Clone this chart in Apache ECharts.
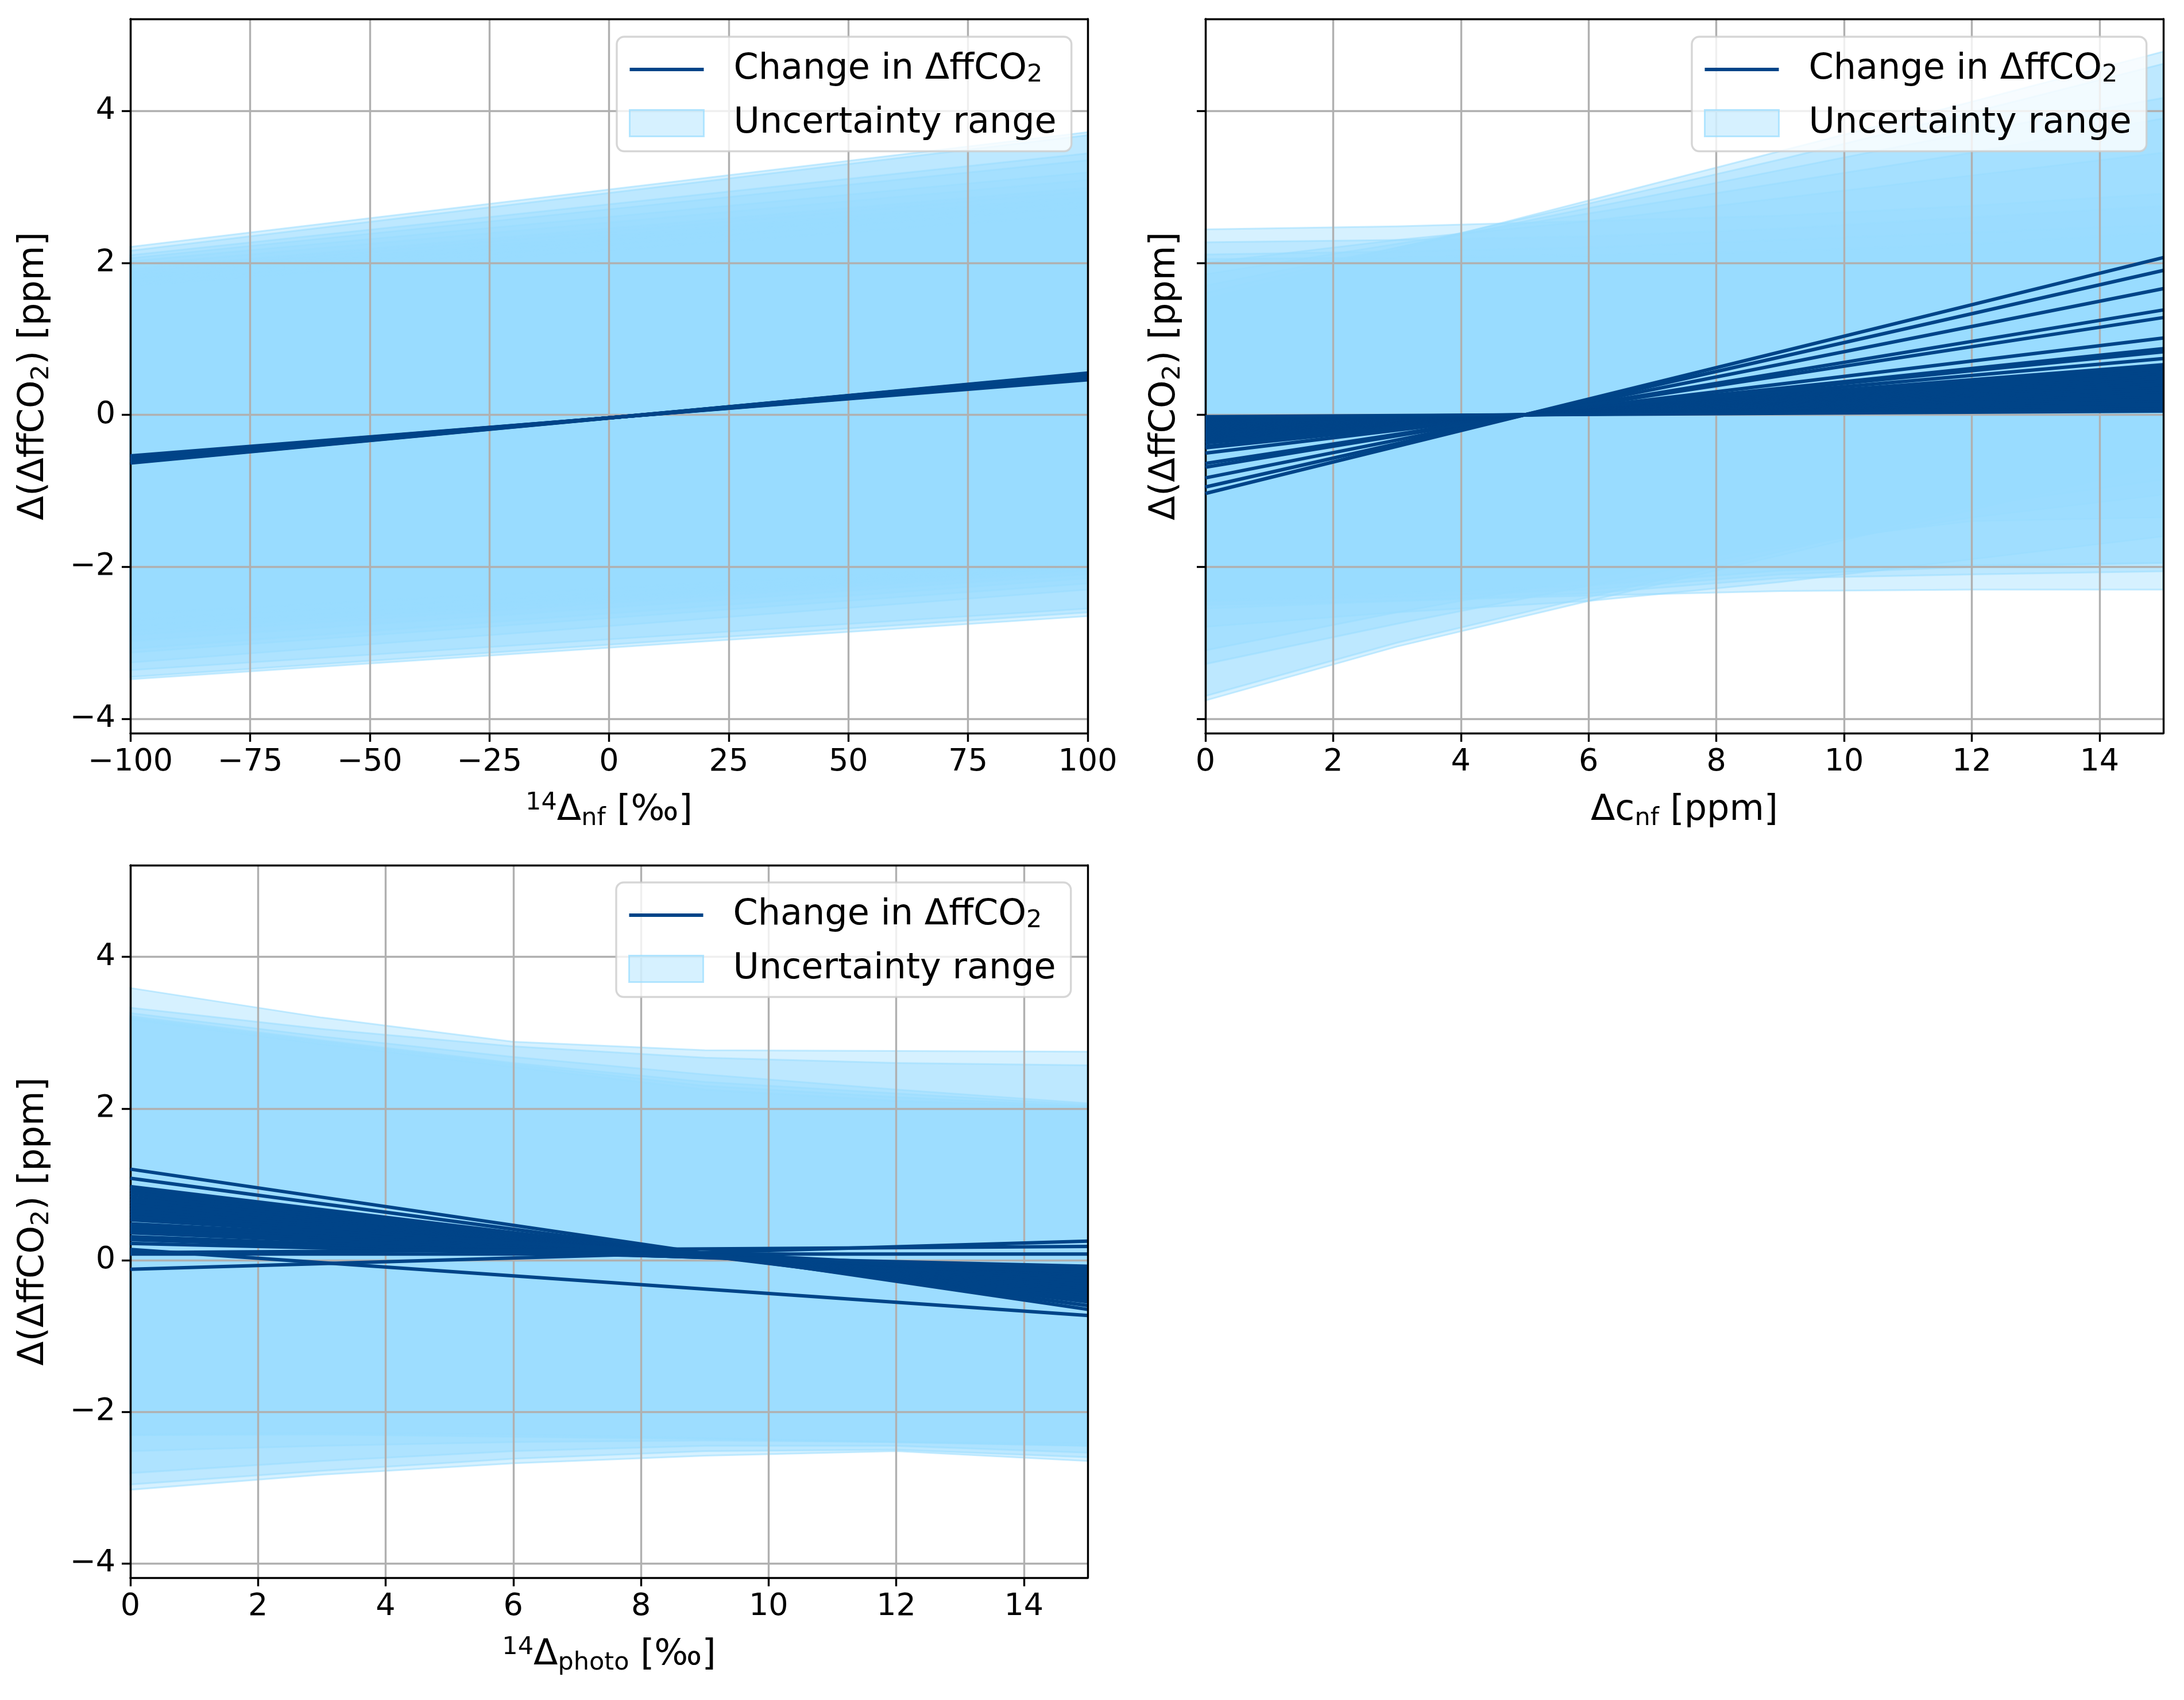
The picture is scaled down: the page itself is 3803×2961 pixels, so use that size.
<!DOCTYPE html>
<html><head><meta charset="utf-8">
<script src="https://cdn.jsdelivr.net/npm/echarts@6/dist/echarts.min.js"></script>
<style>html,body{margin:0;padding:0;background:#fff}#c{width:3803px;height:2961px}</style>
</head><body><div id="c"></div>
<script>
const FONT = 'DejaVu Sans';
const LINE_NAME = 'Change in ΔffCO₂';
const BAND_NAME = 'Uncertainty range';
const LINE_COLOR = '#004488';
const BAND_FILL = 'rgba(153,221,255,0.4)';
const BAND_EDGE = 'rgba(153,221,255,0.55)';

// ---------- Panel 1: 14Δnf ----------
const p1X = [-100, 100];
const p1Lines = [[-0.54,0.46],[-0.55,0.47],[-0.56,0.48],[-0.57,0.49],[-0.58,0.50],[-0.585,0.505],
                 [-0.59,0.51],[-0.60,0.52],[-0.61,0.53],[-0.62,0.54],[-0.63,0.545],[-0.635,0.55]];
const p1BandUpper = [[2.21,3.72],[2.16,3.68],[2.10,3.44],[2.06,3.35],[2.02,3.19],[1.97,3.09],
                     [1.92,2.99],[1.88,2.94],[1.84,2.87],[1.79,2.80],[1.74,2.74],[1.70,2.64]];
const p1BandLower = [[-3.48,-2.65],[-3.45,-2.60],[-3.36,-2.55],[-3.26,-2.30],[-3.13,-2.22],[-3.08,-2.15],
                     [-2.98,-2.10],[-2.90,-2.05],[-2.85,-2.02],[-2.78,-2.00],[-2.70,-1.98],[-2.62,-1.95]];

// ---------- Panel 2: Δc_nf ----------
const p2LineX = [0, 15];
const p2Lines = [[-1.035,2.07],[-0.95,1.90],[-0.83,1.66],[-0.69,1.38],[-0.64,1.28],[-0.505,1.01],
                 [-0.435,0.87],[-0.415,0.83],[-0.37,0.74],[-0.33,0.66],[-0.31,0.62],[-0.295,0.59],
                 [-0.28,0.56],[-0.265,0.53],[-0.25,0.50],[-0.235,0.47],[-0.22,0.44],[-0.205,0.41],
                 [-0.19,0.38],[-0.175,0.35],[-0.16,0.32],[-0.145,0.29],[-0.13,0.26],[-0.115,0.23],
                 [-0.10,0.20],[-0.085,0.17],[-0.07,0.14],[-0.055,0.11],[-0.04,0.08],[-0.025,0.05]];
const p2BandX = [0, 3, 6, 9, 12, 15];
const p2BandUpper = [[1.52,2.17,2.82,3.47,4.12,4.78],[1.60,2.20,2.78,3.36,3.98,4.62],
                     [1.70,2.20,2.72,3.22,3.72,4.17],[1.85,2.25,2.65,3.05,3.45,3.90],
                     [2.00,2.30,2.55,2.85,3.15,3.45],[2.44,2.48,2.55,2.62,2.75,2.91],
                     [2.27,2.30,2.35,2.45,2.60,2.75],[2.11,2.15,2.20,2.30,2.40,2.50],
                     [2.05,2.07,2.10,2.15,2.25,2.40]];
const p2BandLower = [[-3.76,-3.05,-2.45,-1.85,-1.25,-0.65],[-3.70,-3.00,-2.40,-1.80,-1.20,-0.85],
                     [-3.28,-2.75,-2.25,-1.75,-1.35,-1.05],[-3.10,-2.60,-2.15,-1.70,-1.40,-1.35],
                     [-2.79,-2.60,-2.45,-2.20,-1.90,-1.60],[-2.50,-2.45,-2.38,-2.32,-2.30,-2.30],
                     [-2.55,-2.45,-2.35,-2.15,-2.10,-2.06],[-2.45,-2.40,-2.30,-2.10,-2.00,-1.95],
                     [-2.45,-2.35,-2.25,-2.05,-1.98,-1.95]];

// ---------- Panel 3: 14Δphoto ----------
const p3LineX = [0, 15];
const p3Lines = [[1.20,-0.65],[1.08,-0.60],[0.97,-0.55],[0.93,-0.52],[0.89,-0.49],[0.85,-0.46],
                 [0.81,-0.43],[0.77,-0.40],[0.73,-0.37],[0.69,-0.34],[0.65,-0.31],[0.61,-0.28],
                 [0.57,-0.24],[0.53,-0.20],[0.48,-0.17],[0.44,-0.20],[0.40,-0.18],[0.36,-0.16],
                 [0.31,-0.15],[0.27,-0.12],[0.22,-0.08],[0.14,-0.73],
                 [0.08,0.08],[0.10,0.18],[-0.12,0.25]];
const p3BandX = [0, 3, 6, 9, 12, 15];
const p3BandUpper = [[3.59,3.20,2.88,2.77,2.76,2.75],[3.33,3.05,2.82,2.67,2.60,2.57],
                     [3.26,2.95,2.68,2.45,2.25,2.07],[3.22,2.90,2.60,2.35,2.20,2.05],
                     [3.20,2.88,2.58,2.30,2.15,2.03],[3.18,2.85,2.55,2.25,2.10,2.02]];
const p3BandLower = [[-3.03,-2.83,-2.68,-2.58,-2.52,-2.65],[-2.96,-2.78,-2.62,-2.52,-2.50,-2.60],
                     [-2.81,-2.65,-2.52,-2.45,-2.45,-2.54],[-2.52,-2.45,-2.40,-2.38,-2.40,-2.45],
                     [-2.31,-2.30,-2.33,-2.36,-2.40,-2.45],[-2.30,-2.28,-2.30,-2.35,-2.40,-2.42]];

// axes ticks
const yTicks = [-4, -2, 0, 2, 4];
const yMin = -4.19, yMax = 5.21;
const x1Ticks = [-100, -75, -50, -25, 0, 25, 50, 75, 100];
const x23Ticks = [0, 2, 4, 6, 8, 10, 12, 14];

const xNames = [
  '{sup|14}{main|Δ}{sub|nf}{main| [‰]}',
  '{main|Δc}{sub|nf}{main| [ppm]}',
  '{sup|14}{main|Δ}{sub|photo}{main| [‰]}'
];
const yName = '{main|Δ(ΔffCO}{sub|2}{main|) [ppm]}';

const grids = [
  {left: 227, top: 33, width: 1667, height: 1244},
  {left: 2099, top: 33, width: 1668, height: 1244},
  {left: 227, top: 1507, width: 1667, height: 1241}
];
const legendPos = [{left: 1074, top: 64}, {left: 2946, top: 64}, {left: 1073, top: 1537}];

const minus = v => String(v).replace('-', '\u2212');
const SPINE = 3.4;
const richName = {
  main: {fontSize: 62, fontFamily: FONT, color: '#000', lineHeight: 70},
  sup: {fontSize: 43, fontFamily: FONT, color: '#000', lineHeight: 40, verticalAlign: 'top'},
  sub: {fontSize: 43, fontFamily: FONT, color: '#000', lineHeight: 35, verticalAlign: 'bottom'}
};

const xAxes = [], yAxes = [];
const xRanges = [[-100, 100, 25, x1Ticks], [0, 15, 2, x23Ticks], [0, 15, 2, x23Ticks]];
for (let g = 0; g < 3; g++) {
  const [mn, mx, iv, tv] = xRanges[g];
  xAxes.push({
    type: 'value', gridIndex: g, min: mn, max: mx, interval: iv, z: 2,
    axisLine: {show: true, onZero: false, lineStyle: {color: '#000', width: SPINE}},
    axisTick: {show: true, inside: false, length: 15, customValues: tv, lineStyle: {color: '#000', width: SPINE}},
    axisLabel: {show: true, customValues: tv, margin: 24, fontSize: 54, fontFamily: FONT, color: '#000', formatter: minus},
    splitLine: {show: true, lineStyle: {color: '#b0b0b0', width: SPINE}},
    name: xNames[g], nameLocation: 'middle', nameGap: 100,
    nameTextStyle: {color: '#000', fontFamily: FONT, rich: richName}
  });
  yAxes.push({
    type: 'value', gridIndex: g, min: yMin, max: yMax, z: 2,
    axisLine: {show: true, onZero: false, lineStyle: {color: '#000', width: SPINE}},
    axisTick: {show: true, inside: false, length: 15, customValues: yTicks, lineStyle: {color: '#000', width: SPINE}},
    axisLabel: {show: g !== 1, customValues: yTicks, margin: 26, fontSize: 54, fontFamily: FONT, color: '#000', formatter: minus},
    splitLine: {show: true, lineStyle: {color: '#b0b0b0', width: SPINE}},
    name: yName, nameLocation: 'middle', nameGap: g === 1 ? 35 : 133,
    nameTextStyle: {color: '#000', fontFamily: FONT, rich: {
      main: {fontSize: 62, fontFamily: FONT, color: '#000', lineHeight: 70},
      sub: {fontSize: 43, fontFamily: FONT, color: '#000', lineHeight: 40, verticalAlign: 'bottom'}
    }}
  });
}
// frame (top / right spines)
for (let g = 0; g < 3; g++) {
  const [mn, mx] = xRanges[g];
  xAxes.push({
    type: 'value', gridIndex: g, position: 'top', min: mn, max: mx, z: 5,
    axisLine: {show: true, onZero: false, lineStyle: {color: '#000', width: SPINE}},
    axisTick: {show: false}, axisLabel: {show: false}, splitLine: {show: false}
  });
  yAxes.push({
    type: 'value', gridIndex: g, position: 'right', min: yMin, max: yMax, z: 5,
    axisLine: {show: true, onZero: false, lineStyle: {color: '#000', width: SPINE}},
    axisTick: {show: false}, axisLabel: {show: false}, splitLine: {show: false}
  });
}

function bandSeries(g, xs, uppers, lowers) {
  return {
    type: 'custom', name: BAND_NAME, xAxisIndex: g, yAxisIndex: g, z: 1,
    silent: true, animation: false,
    itemStyle: {color: BAND_FILL},
    data: uppers.map((u, i) => [xs[0], u[0], i]),
    encode: {x: 0, y: 1},
    renderItem: function (params, api) {
      const i = api.value(2);
      const up = uppers[i], lo = lowers[i];
      const pts = [];
      for (let k = 0; k < xs.length; k++) pts.push(api.coord([xs[k], up[k]]));
      for (let k = xs.length - 1; k >= 0; k--) pts.push(api.coord([xs[k], lo[k]]));
      return {type: 'polygon', shape: {points: pts},
              style: {fill: BAND_FILL, stroke: BAND_EDGE, lineWidth: 3}};
    }
  };
}
function lineSeries(g, xs, ys) {
  return {
    type: 'line', name: LINE_NAME, xAxisIndex: g, yAxisIndex: g, z: 3,
    silent: true, animation: false, symbol: 'none', showSymbol: false,
    data: xs.map((x, k) => [x, ys[k]]),
    lineStyle: {color: LINE_COLOR, width: 6},
    itemStyle: {color: LINE_COLOR}
  };
}

const series = [];
series.push(bandSeries(0, p1X, p1BandUpper, p1BandLower));
series.push(bandSeries(1, p2BandX, p2BandUpper, p2BandLower));
series.push(bandSeries(2, p3BandX, p3BandUpper, p3BandLower));
p1Lines.forEach(l => series.push(lineSeries(0, p1X, l)));
p2Lines.forEach(l => series.push(lineSeries(1, p2LineX, l)));
p3Lines.forEach(l => series.push(lineSeries(2, p3LineX, l)));

const legendRich = {
  t: {fontSize: 62, fontFamily: FONT, color: '#000', lineHeight: 63},
  s: {fontSize: 43, fontFamily: FONT, color: '#000', lineHeight: 22, verticalAlign: 'bottom'}
};
const legends = legendPos.map(p => ({
  left: p.left, top: p.top, orient: 'vertical', align: 'left', z: 6,
  selectedMode: false, symbolKeepAspect: true,
  data: [
    {name: LINE_NAME, icon: 'path://M0,0L129,0L129,6L0,6Z',
     itemStyle: {color: LINE_COLOR, borderWidth: 0}},
    {name: BAND_NAME, icon: 'rect',
     itemStyle: {color: 'rgba(153,221,255,0.4)', borderColor: 'rgba(153,221,255,0.7)', borderWidth: 3}}
  ],
  formatter: function (name) {
    return name === LINE_NAME ? '{t|Change in ΔffCO}{s|2}' : '{t|' + name + '}';
  },
  itemWidth: 129, itemHeight: 46, itemGap: 31,
  textStyle: {fontSize: 62, fontFamily: FONT, color: '#000', padding: [0, 0, 0, 47], rich: legendRich},
  backgroundColor: 'rgba(255,255,255,0.8)',
  borderColor: 'rgba(204,204,204,0.8)', borderWidth: 3.4, borderRadius: 13,
  padding: [26, 26, 18, 21]
}));

const chart = echarts.init(document.getElementById('c'), null, {renderer: 'canvas'});
chart.setOption({
  animation: false,
  backgroundColor: '#fff',
  grid: grids.map(g => Object.assign({containLabel: false}, g)),
  xAxis: xAxes,
  yAxis: yAxes,
  legend: legends,
  series: series
});
</script>
</body></html>
